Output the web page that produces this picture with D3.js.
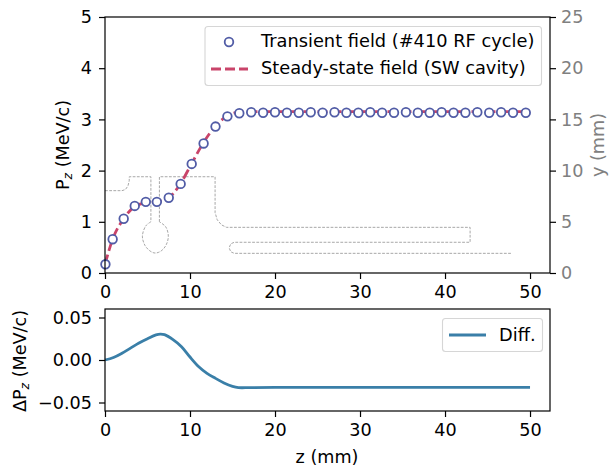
<!DOCTYPE html>
<html><head><meta charset="utf-8">
<script src="https://cdn.jsdelivr.net/npm/d3@7"></script>
<style>html,body{margin:0;padding:0;background:#fff}svg{display:block}text{font-family:"DejaVu Sans",sans-serif}</style>
</head><body><svg id="c" width="610" height="466"></svg>
<script>
const markerZ=[0.05,0.9,2.2,3.5,4.8,6.1,7.5,8.9,10.2,11.6,13.0,14.4,15.8,17.2,18.6,20.0,21.4,22.8,24.2,25.6,27.0,28.4,29.8,31.2,32.6,34.0,35.4,36.8,38.2,39.6,41.0,42.4,43.8,45.2,46.6,48.0,49.5];
const markerP=[0.17,0.66,1.06,1.31,1.39,1.39,1.47,1.74,2.13,2.53,2.86,3.06,3.12,3.14,3.13,3.14,3.13,3.13,3.14,3.13,3.14,3.13,3.13,3.14,3.13,3.13,3.14,3.13,3.13,3.14,3.13,3.13,3.14,3.13,3.14,3.13,3.13];
const steadyZ=[0,0.9,2.2,3.5,4.8,6.1,7.5,8.9,10.2,11.6,13.0,14.4,15.8,17.2,20,30,40,50];
const steadyP=[0.17,0.66,1.06,1.30,1.37,1.39,1.47,1.75,2.14,2.55,2.87,3.07,3.14,3.15,3.15,3.15,3.15,3.15];
const diffZ=[0,1,2,3,4,5,6,6.5,7,8,9,10,11,12,13,14,15,15.7,17,20,30,40,50];
const diffV=[0,0.003,0.008,0.014,0.02,0.025,0.0295,0.0305,0.0298,0.024,0.0157,0.0035,-0.0076,-0.0157,-0.0216,-0.027,-0.031,-0.0325,-0.0325,-0.0322,-0.0322,-0.0322,-0.0322];
const cavityA=[[0,8.04],[2.0,8.04],[2.4,8.15],[2.7,8.5],[2.85,9.0],[2.85,9.4],[5.4,9.4],[5.4,5.0]];
const bulb=[[5.4,5.0],[4.8,4.6],[4.4,3.6],[4.7,2.7],[5.3,2.15],[5.9,1.95],[6.6,2.15],[7.2,2.75],[7.45,3.6],[7.15,4.5],[6.4,5.0]];
const cavityB=[[6.4,5.0],[6.4,9.4],[12.95,9.4],[12.95,5.9],[13.2,5.2],[13.7,4.7],[14.3,4.46],[42.95,4.46],[42.95,3.0],[15.2,3.0],[14.8,2.85],[14.6,2.46],[14.8,2.07],[15.2,1.92],[47.85,1.92]];
const xTicks=[0,10,20,30,40,50], pTicks=[0,1,2,3,4,5], yTicks=[0,5,10,15,20,25], dTicks=[-0.05,0,0.05];

const svg=d3.select("#c");
const L=105,R=550,T1=17,B1=273,T2=309,B2=411;
const x=d3.scaleLinear().domain([0,52.35]).range([L,R]);
const yP=d3.scaleLinear().domain([0,5]).range([B1,T1]);
const yMM=d3.scaleLinear().domain([0,25]).range([B1,T1]);
const yD=d3.scaleLinear().domain([-0.06,0.06]).range([B2,T2]);
const fs=17.6;
function style(g,color){
  g.selectAll("text").attr("font-size",fs).attr("fill",color||"#000");
  g.selectAll("line").attr("stroke","#000").attr("stroke-width",1.2);
  g.select(".domain").remove();
}
const minus=v=>d3.format(".2f")(v).replace("-","\u2212");
svg.append("g").attr("transform",`translate(0,${B1})`).call(d3.axisBottom(x).tickValues(xTicks).tickSize(6).tickPadding(7).tickFormat(d3.format("d"))).call(style);
svg.append("g").attr("transform",`translate(${L},0)`).call(d3.axisLeft(yP).tickValues(pTicks).tickSize(6).tickPadding(7).tickFormat(d3.format("d"))).call(style);
svg.append("g").attr("transform",`translate(${R},0)`).call(d3.axisRight(yMM).tickValues(yTicks).tickSize(6).tickPadding(5).tickFormat(d3.format("d"))).call(g=>style(g,"#808080"));
svg.append("g").attr("transform",`translate(0,${B2})`).call(d3.axisBottom(x).tickValues(xTicks).tickSize(6).tickPadding(7).tickFormat(d3.format("d"))).call(style);
svg.append("g").attr("transform",`translate(${L},0)`).call(d3.axisLeft(yD).tickValues(dTicks).tickSize(6).tickPadding(7).tickFormat(minus)).call(style);

const mmLine=d3.line().x(d=>x(d[0])).y(d=>yMM(d[1]));
[cavityA,cavityB].forEach(a=>svg.append("path").attr("d",mmLine(a)).attr("fill","none").attr("stroke","#a8a8a8").attr("stroke-width",1).attr("stroke-dasharray","2.8,1.4"));
svg.append("path").attr("d",mmLine.curve(d3.curveCatmullRom)(bulb)).attr("fill","none").attr("stroke","#a8a8a8").attr("stroke-width",1).attr("stroke-dasharray","2.8,1.4");

const pLine=d3.line().curve(d3.curveMonotoneX).x((d,i)=>x(steadyZ[i])).y(d=>yP(d));
svg.append("path").attr("d",pLine(steadyP)).attr("fill","none").attr("stroke","#c9446a").attr("stroke-width",2.8).attr("stroke-dasharray","10,4");
svg.append("g").selectAll("circle").data(markerP).join("circle")
  .attr("cx",(d,i)=>x(markerZ[i])).attr("cy",d=>yP(d)).attr("r",4.3)
  .attr("fill","#fff").attr("stroke","#515ca6").attr("stroke-width",1.8);

const dLine=d3.line().curve(d3.curveCatmullRom).x((d,i)=>x(diffZ[i])).y(d=>yD(d));
svg.append("path").attr("d",dLine(diffV)).attr("fill","none").attr("stroke","#3a7fa8").attr("stroke-width",2.8);

[[T1,B1],[T2,B2]].forEach(([t,b])=>svg.append("rect").attr("x",L).attr("y",t).attr("width",R-L).attr("height",b-t).attr("fill","none").attr("stroke","#000").attr("stroke-width",1.2));

function box(xa,ya,w,h){svg.append("rect").attr("x",xa).attr("y",ya).attr("width",w).attr("height",h).attr("rx",3).attr("fill","#fff").attr("fill-opacity",0.8).attr("stroke","#d6d6d6").attr("stroke-width",1.1);}
const legendLabels=["Transient field (#410 RF cycle)","Steady-state field (SW cavity)"];
box(205,26.5,336.5,59);
svg.append("circle").attr("cx",229).attr("cy",42).attr("r",4.3).attr("fill","#fff").attr("stroke","#515ca6").attr("stroke-width",1.8);
svg.append("line").attr("x1",211).attr("x2",248).attr("y1",69).attr("y2",69).attr("stroke","#c9446a").attr("stroke-width",2.8).attr("stroke-dasharray","10,4");
legendLabels.forEach((t,i)=>svg.append("text").attr("x",261).attr("y",47+i*27).attr("font-size",17.8).text(t));
box(442.5,318.5,100,33);
svg.append("line").attr("x1",449).attr("x2",486).attr("y1",335).attr("y2",335).attr("stroke","#3a7fa8").attr("stroke-width",2.8);
svg.append("text").attr("x",499).attr("y",341).attr("font-size",17.8).text("Diff.");

function sub(tr,pre,post){
  const t=svg.append("text").attr("transform",tr).attr("text-anchor","middle").attr("font-size",fs);
  t.append("tspan").text(pre);
  t.append("tspan").attr("font-style","italic").attr("font-size",fs*0.7).attr("dy",3).text("z");
  t.append("tspan").attr("dy",-3).text(post);
}
sub("translate(69,145) rotate(-90)","P"," (MeV/c)");
sub("translate(26,361) rotate(-90)","\u0394P"," (MeV/c)");
svg.append("text").attr("transform","translate(604,145) rotate(-90)").attr("text-anchor","middle").attr("font-size",fs).attr("fill","#808080").text("y (mm)");
svg.append("text").attr("x",327).attr("y",463).attr("text-anchor","middle").attr("font-size",fs).text("z (mm)");
</script></body></html>
